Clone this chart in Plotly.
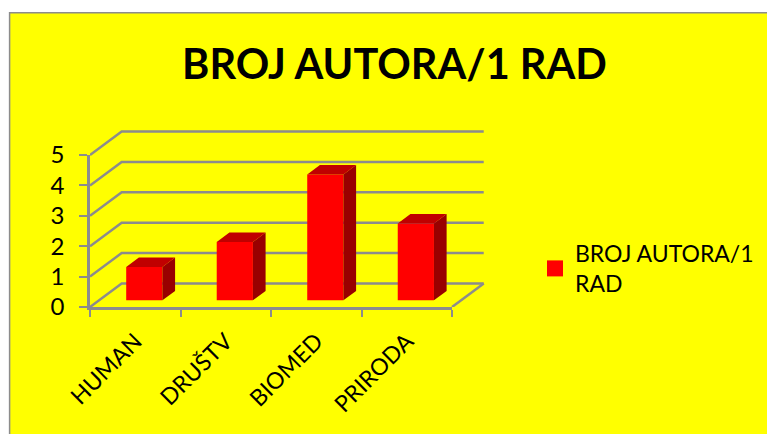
import plotly.graph_objects as go

categories = ["HUMAN", "DRUŠTV", "BIOMED", "PRIRODA"]
values = [1.1, 1.92, 4.14, 2.53]
series_name = "BROJ AUTORA/1 RAD"
y_ticks = [0, 1, 2, 3, 4, 5]

FONT = "Lato, Carlito, Calibri, sans-serif"
GREY = "#8c8c8c"
W, H = 767, 434
L, R, T, B = 89.5, 452.0, 155.0, 306.7   # labelled plot box
R2, T2 = 490.0, 125.0                    # wider box holding the back wall
DX, DY = 0.35, 0.775      # full floor depth in axis units
BAR_W = 0.40
BAR_X = 0.40              # bar left edge offset inside its category
BAR_BASE = 0.22           # floor shift of the bar's front face
BAR_DX, BAR_DY = 0.14, 0.31  # bar depth in axis units

n = len(categories)
idx = list(range(n))
fx = (R - L) / (R2 - L)
fy = (B - T) / (B - T2)
fig = go.Figure()

# walls and floor (behind, on the wider hidden axes)
grid_x, grid_y = [], []
for v in y_ticks:
    grid_x += [0, DX, n + DX, None]
    grid_y += [v, v + DY, v + DY, None]
grid_x += [n, n + DX, None]
grid_y += [0, DY, None]
fig.add_trace(go.Scatter(x=grid_x, y=grid_y, mode="lines", xaxis="x", yaxis="y",
                         line=dict(color=GREY, width=2.5), showlegend=False, hoverinfo="skip"))

def face(points_fn):
    xs, ys = [], []
    for i, v in zip(idx, values):
        for px, py in points_fn(i, v):
            xs.append(px)
            ys.append(py)
        xs.append(None)
        ys.append(None)
    return xs, ys

# right side faces
sx, sy = face(lambda i, v: [
    (i + BAR_X + BAR_W, BAR_BASE), (i + BAR_X + BAR_W + BAR_DX, BAR_BASE + BAR_DY),
    (i + BAR_X + BAR_W + BAR_DX, BAR_BASE + BAR_DY + v), (i + BAR_X + BAR_W, BAR_BASE + v),
    (i + BAR_X + BAR_W, BAR_BASE)])
fig.add_trace(go.Scatter(x=sx, y=sy, mode="lines", fill="toself", fillcolor="#990000", xaxis="x2", yaxis="y2",
                         line=dict(width=0, color="#990000"), showlegend=False, hoverinfo="skip"))

# top faces
tx, ty = face(lambda i, v: [
    (i + BAR_X, BAR_BASE + v), (i + BAR_X + BAR_W, BAR_BASE + v),
    (i + BAR_X + BAR_W + BAR_DX, BAR_BASE + BAR_DY + v), (i + BAR_X + BAR_DX, BAR_BASE + BAR_DY + v),
    (i + BAR_X, BAR_BASE + v)])
fig.add_trace(go.Scatter(x=tx, y=ty, mode="lines", fill="toself", fillcolor="#c00000", xaxis="x2", yaxis="y2",
                         line=dict(width=0, color="#c00000"), showlegend=False, hoverinfo="skip"))

# front faces
fig.add_trace(go.Bar(x=idx, y=values, base=BAR_BASE, offset=BAR_X, width=BAR_W, xaxis="x2", yaxis="y2",
                     marker=dict(color="#ff0000", line=dict(width=0)), showlegend=False,
                     name=series_name))

# legend entry
fig.add_trace(go.Scatter(x=[None], y=[None], mode="markers", name="BROJ AUTORA/1<br>RAD", xaxis="x2", yaxis="y2",
                         marker=dict(symbol="square", size=16, color="#ff0000")))

fig.update_layout(
    width=W, height=H, autosize=False,
    margin=dict(l=L, r=W - R2, t=T2, b=H - B, pad=0),
    paper_bgcolor="white", plot_bgcolor="rgba(0,0,0,0)",
    font=dict(family=FONT, color="black"),
    barmode="overlay",
    title=dict(text="<b>BROJ AUTORA/1 RAD</b>", font=dict(size=41.5, family=FONT, color="black"),
               x=394.5 / W, xanchor="center", y=1 - 64 / H, yanchor="middle"),
    xaxis=dict(domain=[0, 1], range=[0, n / fx], visible=False, fixedrange=True),
    yaxis=dict(domain=[0, 1], range=[0, 5 / fy], visible=False, fixedrange=True),
    xaxis2=dict(domain=[0, fx], anchor="y2", range=[0, n], tickmode="array",
                tickvals=[i + 0.5 for i in idx], ticktext=categories, tickangle=-45,
                tickfont=dict(size=23), ticks="", showgrid=False, zeroline=False,
                showline=True, linecolor=GREY, linewidth=2.5, ticklabelstandoff=9,
                minor=dict(tickmode="array", tickvals=list(range(n + 1)),
                           ticks="outside", ticklen=7, tickwidth=2, tickcolor=GREY, showgrid=False)),
    yaxis2=dict(domain=[0, fy], anchor="x2", range=[0, 5], tickmode="array", tickvals=y_ticks,
                tickfont=dict(size=24), ticks="outside", ticklen=8, tickwidth=2, tickcolor=GREY,
                showgrid=False, zeroline=False, showline=True, linecolor=GREY, linewidth=2.5,
                ticklabelstandoff=10),
    legend=dict(x=535 / W, xref="container", y=1 - 232 / H, yref="container", xanchor="left", yanchor="top",
                bgcolor="rgba(0,0,0,0)", font=dict(size=23, family=FONT), itemclick=False, itemdoubleclick=False),
    shapes=[dict(type="rect", layer="below", xref="paper", yref="paper",
                 x0=(9 - L) / (R2 - L), x1=(W + 10 - L) / (R2 - L),
                 y0=(B - H - 10) / (B - T2), y1=(B - 13) / (B - T2),
                 fillcolor="#ffff00", line=dict(color="#8c8c8c", width=1.5))],
)
fig.write_html("out.html", config=dict(displayModeBar=False),
               post_script="document.body.style.margin='0';")
